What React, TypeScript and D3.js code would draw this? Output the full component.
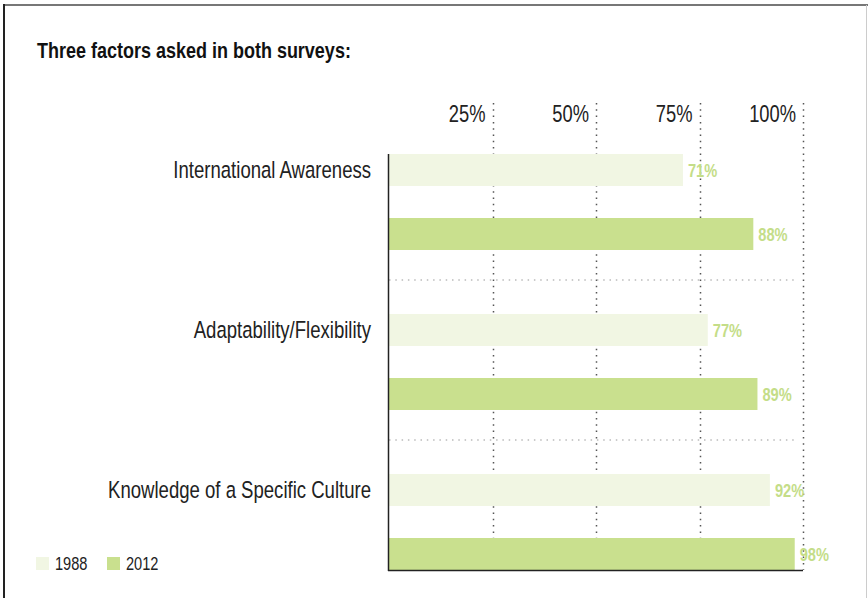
import React from "react";
import * as d3 from "d3";

const categories = [
  "International Awareness",
  "Adaptability/Flexibility",
  "Knowledge of a Specific Culture",
];
const years = ["1988", "2012"];
const values1988 = [71, 77, 92];
const values2012 = [88, 89, 98];
const ticks = [25, 50, 75, 100];
const title = "Three factors asked in both surveys:";

const W = 868;
const H = 598;
const FONT = "'Liberation Sans', Arial, sans-serif";
const colors: Record<string, string> = { "1988": "#f1f6e3", "2012": "#c9e08e" };
const labelColor = "#c4dd88";

type TProps = {
  x: number;
  y: number;
  size: number;
  sx: number;
  anchor?: "start" | "end" | "middle";
  weight?: string;
  fill: string;
  children: React.ReactNode;
};

function CText({ x, y, size, sx, anchor = "start", weight = "normal", fill, children }: TProps) {
  return (
    <text
      transform={`translate(${x},${y}) scale(${sx},1)`}
      fontSize={size}
      textAnchor={anchor}
      fontWeight={weight}
      fill={fill}
    >
      {children}
    </text>
  );
}

export default function App() {
  const x = d3.scaleLinear().domain([0, 100]).range([389, 803]);
  const yGroup = d3.scaleBand().domain(categories).range([122, 602]);
  const yInner = d3
    .scaleBand()
    .domain(years)
    .range([0, yGroup.bandwidth()])
    .paddingInner(0.5)
    .paddingOuter(0.5);

  const series: Record<string, number[]> = { "1988": values1988, "2012": values2012 };
  const axisBottom = (yGroup(categories[2]) ?? 0) + (yInner("2012") ?? 0) + yInner.bandwidth();
  const axisTop = (yGroup(categories[0]) ?? 0) + (yInner("1988") ?? 0);

  return (
    <svg
      width={W}
      height={H}
      style={{ position: "absolute", left: 0, top: 0, display: "block" }}
      fontFamily={FONT}
    >
      <rect x={0} y={0} width={W} height={H} fill="#fff" />
      {/* frame */}
      <line x1={3} x2={W} y1={5} y2={5} stroke="#777" strokeWidth={2} />
      <line x1={4} x2={4} y1={4} y2={H} stroke="#222" strokeWidth={2} />
      <line x1={866.5} x2={866.5} y1={5} y2={H} stroke="#ccc" strokeWidth={1} />

      <CText x={37} y={58} size={22.5} sx={0.8} weight="bold" fill="#111">
        {title}
      </CText>

      {/* vertical grid lines */}
      {ticks.map((t) => (
        <g key={t}>
          <line
            x1={Math.round(x(t)) + 0.5}
            x2={Math.round(x(t)) + 0.5}
            y1={103}
            y2={axisBottom}
            stroke="#555"
            strokeWidth={1.5}
            strokeDasharray="1.5,4.8"
          />
          <CText x={x(t) - 7} y={122} size={23.5} sx={0.78} anchor="end" fill="#222">
            {t}%
          </CText>
        </g>
      ))}

      {/* horizontal separators */}
      {categories.slice(1).map((c) => (
        <line
          key={c}
          x1={x(0)}
          x2={x(98)}
          y1={(yGroup(c) ?? 0) - 2}
          y2={(yGroup(c) ?? 0) - 2}
          stroke="#bbb"
          strokeWidth={1.5}
          strokeDasharray="1.5,4.8"
        />
      ))}

      {/* bars */}
      {categories.map((c, i) => (
        <g key={c} transform={`translate(0,${yGroup(c)})`}>
          <CText
            x={371}
            y={(yInner("1988") ?? 0) + yInner.bandwidth() / 2 + 8}
            size={23.5}
            sx={0.79}
            anchor="end"
            fill="#222"
          >
            {c}
          </CText>
          {years.map((yr) => {
            const v = series[yr][i];
            const y0 = yInner(yr) ?? 0;
            return (
              <g key={yr}>
                <rect
                  x={x(0)}
                  y={y0}
                  width={x(v) - x(0)}
                  height={yInner.bandwidth()}
                  fill={colors[yr]}
                />
                <CText
                  x={x(v) + 5}
                  y={y0 + yInner.bandwidth() / 2 + 7}
                  size={19}
                  sx={0.77}
                  weight="bold"
                  fill={labelColor}
                >
                  {v}%
                </CText>
              </g>
            );
          })}
        </g>
      ))}

      {/* axes */}
      <line x1={388.5} x2={388.5} y1={axisTop} y2={axisBottom + 1} stroke="#222" strokeWidth={1.5} />
      <line x1={388} x2={x(100)} y1={axisBottom + 0.5} y2={axisBottom + 0.5} stroke="#222" strokeWidth={1.5} />

      {/* legend */}
      {years.map((yr, i) => (
        <g key={yr} transform={`translate(${36 + i * 71},557)`}>
          <rect x={0} y={0} width={13} height={13} fill={colors[yr]} />
          <CText x={19} y={13} size={18.5} sx={0.79} fill="#222">
            {yr}
          </CText>
        </g>
      ))}
    </svg>
  );
}
